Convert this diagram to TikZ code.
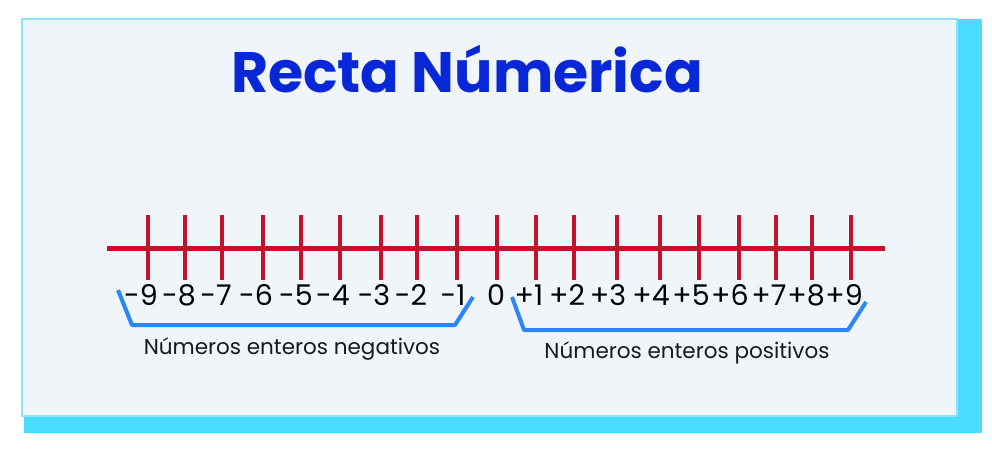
\documentclass[tikz,border=0pt]{standalone}
\usepackage{fontspec}
\setmainfont{Poppins}
\usetikzlibrary{positioning}

\definecolor{cardbg}{HTML}{F0F5FA}
\definecolor{cardline}{HTML}{8EE2FA}
\definecolor{sombra}{HTML}{48DCFF}
\definecolor{azultitulo}{HTML}{0828D8}
\definecolor{rojorecta}{HTML}{C8102E}
\definecolor{azulllave}{HTML}{2C86F8}

\tikzstyle{titulo} = [
    font=\fontsize{57}{57}\selectfont\bfseries,
    text=azultitulo,
    inner sep=0pt,
    anchor=base
]
\tikzstyle{recta} = [draw=rojorecta, line width=5pt]
\tikzstyle{marca} = [draw=rojorecta, line width=4pt]
\tikzstyle{numero} = [
    font=\fontsize{28.5}{28.5}\selectfont,
    text=black,
    inner sep=0pt,
    anchor=base
]
\tikzstyle{llave} = [draw=azulllave, line width=4pt, line join=round]
\tikzstyle{leyenda} = [
    font=\fontsize{21.5}{21.5}\selectfont,
    text=black!90,
    inner sep=0pt,
    anchor=base
]

\begin{document}
\begin{tikzpicture}[x=1pt, y=-1pt]
\useasboundingbox (0,0) rectangle (992,452);

% tarjeta con sombra
\fill [sombra] (24,19) rectangle (982,433);
\filldraw [fill=cardbg, draw=cardline, line width=1.2pt] (22,19) rectangle (957,416);

\node (title) [titulo] at (467,92) {Recta Númerica};

% recta numerica
\coordinate (ini) at (107,248);
\coordinate (fin) at (885,248);
\draw [recta] (ini) -- (fin);

\foreach \i/\x/\lx/\lab in {
    1/148/141/-9, 2/185/179/-8, 3/222/216/-7, 4/263/256/-6, 5/301/296/-5,
    6/340/333/-4, 7/381/374/-3, 8/417/411/-2, 9/457/453/-1, 10/497/496/0,
    11/536/529/+1, 12/574/567/+2, 13/617/608/+3, 14/660/651/+4, 15/699/691/+5,
    16/739/730/+6, 17/776/769/+7, 18/812/806/+8, 19/851/844/+9} {
    \coordinate (t\i) at (\x,215);
    \coordinate (b\i) at (\x,280);
    \draw [marca] (t\i) -- (b\i);
    \node (n\i) [numero] at (\lx,305) {\lab};
}

% llaves
\coordinate (na) at (118,290);
\coordinate (nb) at (132,325);
\coordinate (nc) at (455,325);
\coordinate (nd) at (473,297);
\draw [llave] (na) -- (nb) -- (nc) -- (nd);

\coordinate (pa) at (512,297);
\coordinate (pb) at (524,330);
\coordinate (pc) at (848,330);
\coordinate (pd) at (866,302);
\draw [llave] (pa) -- (pb) -- (pc) -- (pd);

\node (negtxt) [leyenda] at (292,354) {Números enteros negativos};
\node (postxt) [leyenda] at (687,358) {Números enteros positivos};

\end{tikzpicture}
\end{document}
